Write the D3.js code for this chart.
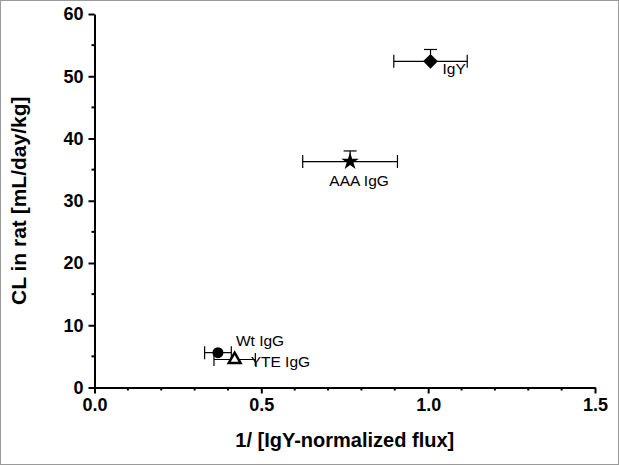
<!DOCTYPE html>
<html>
<head>
<meta charset="utf-8">
<script src="https://cdn.jsdelivr.net/npm/d3@7"></script>
<style>
  body { margin: 0; background: #fff; }
  svg text { font-family: "Liberation Sans", Arial, sans-serif; }
</style>
</head>
<body>
<svg width="619" height="465"></svg>
<script>
// Data
const names = ["IgY", "AAA IgG", "Wt IgG", "YTE IgG"];
const xVals = [1.007, 0.766, 0.37, 0.42];
const yVals = [52.4, 36.3, 5.6, 4.5];
const xErr = [0.11, 0.142, 0.04, 0.062];
const yErr = [1.9, 1.7, 0, 0];
const shapes = ["diamond", "star", "circle", "triangle"];

const xTicks = [0, 0.5, 1.0, 1.5];
const yTicks = [0, 10, 20, 30, 40, 50, 60];

const points = names.map((n, i) => ({
  name: n, x: xVals[i], y: yVals[i], xe: xErr[i], ye: yErr[i], shape: shapes[i]
}));

const svg = d3.select("svg");

// grey frame around the picture
svg.append("rect")
  .attr("x", 0.5).attr("y", 0.5)
  .attr("width", 618).attr("height", 464)
  .attr("fill", "none").attr("stroke", "#9a9a9a");

const xScale = d3.scaleLinear().domain([0, 1.5]).range([94.5, 595]);
const yScale = d3.scaleLinear().domain([0, 60]).range([387.5, 14]);

const g = svg.append("g");

// minor ticks
const xMinor = d3.range(0, 1.5001, 0.1).filter(v => Math.abs(v * 2 - Math.round(v * 2)) > 1e-6);
const yMinor = d3.range(5, 60, 10);

// x axis
const xAxis = g.append("g")
  .attr("transform", `translate(0,${yScale(0)})`)
  .call(d3.axisBottom(xScale).tickValues(xTicks).tickFormat(d3.format(".1f")).tickSizeInner(6).tickSizeOuter(0).tickPadding(5));
xAxis.selectAll("line").attr("stroke-width", 2);
xAxis.select(".domain").attr("stroke-width", 2);
xAxis.selectAll("text").attr("font-size", 18).attr("font-weight", "bold").attr("fill", "#000");
xAxis.selectAll(".minor").data(xMinor).enter().append("line")
  .attr("x1", d => xScale(d)).attr("x2", d => xScale(d))
  .attr("y1", 0).attr("y2", 3)
  .attr("stroke", "#000").attr("stroke-width", 2);

// y axis
const yAxis = g.append("g")
  .attr("transform", `translate(${xScale(0)},0)`)
  .call(d3.axisLeft(yScale).tickValues(yTicks).tickSizeInner(6).tickSizeOuter(0).tickPadding(5));
yAxis.selectAll("line").attr("stroke-width", 2);
yAxis.select(".domain").attr("stroke-width", 2);
yAxis.selectAll("text").attr("font-size", 18).attr("font-weight", "bold").attr("fill", "#000");
yAxis.selectAll(".minor").data(yMinor).enter().append("line")
  .attr("x1", 0).attr("x2", -3)
  .attr("y1", d => yScale(d)).attr("y2", d => yScale(d))
  .attr("stroke", "#000").attr("stroke-width", 2);

// axis titles
svg.append("text")
  .attr("x", (xScale(0) + xScale(1.5)) / 2)
  .attr("y", 447)
  .attr("text-anchor", "middle")
  .attr("font-size", 20).attr("font-weight", "bold")
  .text("1/ [IgY-normalized flux]");

svg.append("text")
  .attr("transform", `translate(26,${(yScale(0) + yScale(60)) / 2}) rotate(-90)`)
  .attr("text-anchor", "middle")
  .attr("font-size", 21).attr("font-weight", "bold")
  .text("CL in rat [mL/day/kg]");

// error bars
const cap = 6.5;
const eb = g.append("g").attr("stroke", "#000").attr("stroke-width", 1.2).attr("fill", "none");
points.forEach(d => {
  const cx = xScale(d.x), cy = yScale(d.y);
  const xl = xScale(d.x - d.xe), xr = xScale(d.x + d.xe);
  eb.append("line").attr("x1", xl).attr("x2", xr).attr("y1", cy).attr("y2", cy);
  eb.append("line").attr("x1", xl).attr("x2", xl).attr("y1", cy - cap).attr("y2", cy + cap);
  eb.append("line").attr("x1", xr).attr("x2", xr).attr("y1", cy - cap).attr("y2", cy + cap);
  if (d.ye > 0) {
    const yt = yScale(d.y + d.ye);
    eb.append("line").attr("x1", cx).attr("x2", cx).attr("y1", cy).attr("y2", yt);
    eb.append("line").attr("x1", cx - cap).attr("x2", cx + cap).attr("y1", yt).attr("y2", yt);
  }
});

// markers
const symbolFor = {
  diamond: d3.symbol().type(d3.symbolSquare).size(110),
  star: d3.symbol().type(d3.symbolStar).size(95),
  circle: d3.symbol().type(d3.symbolCircle).size(95),
  triangle: d3.symbol().type(d3.symbolTriangle).size(60)
};
g.selectAll(".pt").data(points).enter().append("path")
  .attr("class", "pt")
  .attr("d", d => symbolFor[d.shape]())
  .attr("transform", d => `translate(${xScale(d.x)},${yScale(d.y)})` + (d.shape === "diamond" ? " rotate(45)" : ""))
  .attr("fill", d => d.shape === "triangle" ? "#fff" : "#000")
  .attr("stroke", "#000")
  .attr("stroke-width", d => d.shape === "triangle" ? 2.5 : 0);

// point labels
const labelPos = {
  "IgY": [12, 13, "start"],
  "AAA IgG": [9, 24, "middle"],
  "Wt IgG": [18, -7, "start"],
  "YTE IgG": [16, 8, "start"]
};
g.selectAll(".lbl").data(points).enter().append("text")
  .attr("class", "lbl")
  .attr("x", d => xScale(d.x) + labelPos[d.name][0])
  .attr("y", d => yScale(d.y) + labelPos[d.name][1])
  .attr("text-anchor", d => labelPos[d.name][2])
  .attr("font-size", 15.5)
  .attr("fill", "#000")
  .text(d => d.name);
</script>
</body>
</html>
